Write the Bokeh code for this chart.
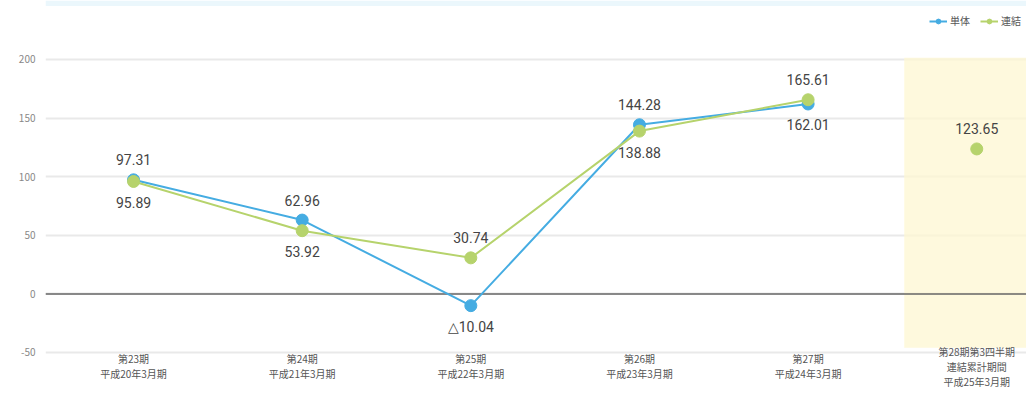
import numpy as np
from bokeh.plotting import figure
from bokeh.models import (ColumnDataSource, FixedTicker, BoxAnnotation, Span,
                          Legend, LegendItem, Range1d)
from bokeh.embed import file_html
from bokeh.resources import INLINE
from bokeh.core.properties import value

# ---- data ----
categories = [
    "第23期\n平成20年3月期",
    "第24期\n平成21年3月期",
    "第25期\n平成22年3月期",
    "第26期\n平成23年3月期",
    "第27期\n平成24年3月期",
    "第28期第3四半期\n連結累計期間\n平成25年3月期",
]
tandoku = [97.31, 62.96, -10.04, 144.28, 162.01, None]      # 単体
renketsu = [95.89, 53.92, 30.74, 138.88, 165.61, 123.65]     # 連結
y_ticks = [-50, 0, 50, 100, 150, 200]
y_tick_labels = ["-50", "0", "50", "100", "150", "200"]

BLUE = "#45ace2"
GREEN = "#b6d36c"
JP = "Noto Sans CJK JP"

idx = list(range(len(categories)))
Y_MIN_TICK = min(y_ticks)

p = figure(width=1026, height=395, output_backend="svg", toolbar_location=None,
           x_range=Range1d(-0.522, 5.295), y_range=Range1d(-86.7, 250.3),
           min_border_left=45, min_border_right=0, min_border_top=0,
           min_border_bottom=0)
p.outline_line_color = None
p.background_fill_color = "white"
p.border_fill_color = "white"

# grid
p.xgrid.grid_line_color = None
p.ygrid.ticker = FixedTicker(ticks=y_ticks)
p.ygrid.grid_line_color = "#e9e9e9"
p.ygrid.grid_line_width = 2

# pale header strip
p.add_layout(BoxAnnotation(bottom=245.6, fill_color="#e6f5fb", fill_alpha=0.8,
                           line_color=None, level="underlay"))

# highlight band for forecast column
band = BoxAnnotation(left=4.57, right=5.3, bottom=-46, top=201.5,
                     fill_color="#fdf7d2", fill_alpha=0.75, line_color=None,
                     level="underlay")
p.add_layout(band)

# zero line
p.add_layout(Span(location=0, dimension="width", line_color="#666666",
                  line_width=1.5, level="underlay"))

# y axis
p.yaxis.ticker = FixedTicker(ticks=y_ticks)
p.yaxis.major_label_overrides = {t: l for t, l in zip(y_ticks, y_tick_labels)}
p.yaxis.axis_line_color = None
p.yaxis.major_tick_line_color = None
p.yaxis.major_tick_out = 0
p.yaxis.major_tick_in = 0
p.yaxis.minor_tick_line_color = None
p.yaxis.major_label_text_color = "#888888"
p.yaxis.major_label_text_font = JP
p.yaxis.major_label_text_font_size = "10px"
p.yaxis.major_label_standoff = 10

# x axis: category labels drawn below the lowest gridline
p.xaxis.visible = False
LINE_H = 15
GAP = 14  # px below lowest gridline to label block centre
cx, cy, ct, co = [], [], [], []
for i, c in enumerate(categories):
    parts = c.split("\n")
    n = len(parts)
    for k, t in enumerate(parts):
        cx.append(i)
        cy.append(Y_MIN_TICK)
        ct.append(t)
        co.append(GAP + (k - (n - 1) / 2) * LINE_H)
cat_src = ColumnDataSource(dict(x=cx, y=cy, text=ct, off=co))
p.text("x", "y", text="text", y_offset="off", source=cat_src,
       text_align="center", text_baseline="middle",
       text_font=value(JP), text_font_size="10px", text_color="#555555")

# series
n_hist = 5
src_t = ColumnDataSource(dict(x=idx[:n_hist], y=tandoku[:n_hist]))
src_r_line = ColumnDataSource(dict(x=idx[:n_hist], y=renketsu[:n_hist]))
src_r = ColumnDataSource(dict(x=idx, y=renketsu))

l_t = p.line("x", "y", source=src_t, line_color=BLUE, line_width=2)
s_t = p.scatter("x", "y", source=src_t, size=12, fill_color=BLUE, line_color=BLUE)
l_r = p.line("x", "y", source=src_r_line, line_color=GREEN, line_width=2)
s_r = p.scatter("x", "y", source=src_r, size=12, fill_color=GREEN, line_color=GREEN)


# data labels: higher value above, lower value below
def fmt(v):
    return ("△%.2f" % abs(v)) if v < 0 else ("%.2f" % v)


lx, ly, lt, lo = [], [], [], []
for i in idx:
    vals = [v for v in (tandoku[i], renketsu[i]) if v is not None]
    for v in vals:
        lx.append(i)
        ly.append(v)
        lt.append(fmt(v))
        lo.append(-20 if (len(vals) == 1 or v == max(vals)) else 21)
lab_src = ColumnDataSource(dict(x=lx, y=ly, text=lt, off=lo))
p.text("x", "y", text="text", y_offset="off", source=lab_src,
       text_align="center", text_baseline="middle",
       text_font=value("Roboto"), text_font_size="14px", text_color="#444444")

# legend at the top right, inside the (tall) frame
legend = Legend(items=[LegendItem(label="単体", renderers=[l_t, s_t]),
                       LegendItem(label="連結", renderers=[l_r, s_r])],
                orientation="horizontal", location=(884, 367),
                label_text_font=JP, label_text_font_size="10px",
                label_text_color="#555555", glyph_width=18, glyph_height=12,
                label_height=12, label_standoff=3, spacing=10, padding=2,
                margin=0, border_line_color=None, background_fill_alpha=0)
p.add_layout(legend)

open("out.html", "w").write(file_html(p, INLINE))
